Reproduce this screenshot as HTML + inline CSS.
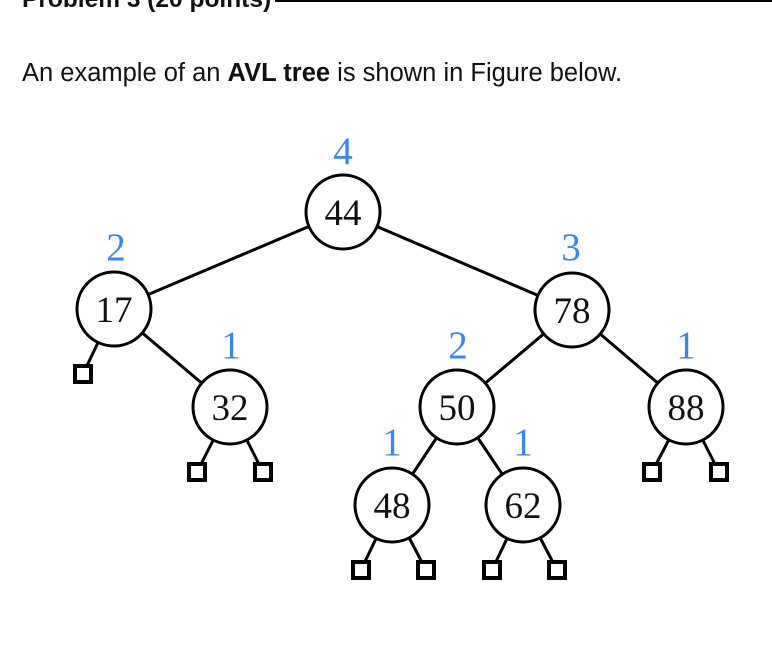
<!DOCTYPE html>
<html><head><style>
body{margin:0;width:772px;height:668px;background:#fff;overflow:hidden;position:relative;font-family:"Liberation Sans",sans-serif}
</style></head><body>
<div style="position:absolute;left:275px;top:0;width:497px;height:2px;background:#000"></div>
<div style="position:absolute;left:22px;top:-14px;font-size:24.5px;font-weight:bold;color:#111">Problem 3 (20 points)</div>
<div style="position:absolute;left:22px;top:59px;font-size:25.5px;color:#111">An example of an <b>AVL tree</b> is shown in Figure below.</div>
<svg width="772" height="668" style="position:absolute;left:0;top:0" xmlns="http://www.w3.org/2000/svg">
<g stroke="#000" stroke-width="3" fill="none">
<line x1="343" y1="212" x2="114" y2="309"/>
<line x1="343" y1="212" x2="572" y2="310"/>
<line x1="114" y1="309" x2="83" y2="374"/>
<line x1="114" y1="309" x2="230" y2="407"/>
<line x1="230" y1="407" x2="197" y2="472"/>
<line x1="230" y1="407" x2="263" y2="472"/>
<line x1="572" y1="310" x2="457" y2="407"/>
<line x1="572" y1="310" x2="686" y2="407"/>
<line x1="686" y1="407" x2="652" y2="472"/>
<line x1="686" y1="407" x2="719" y2="472"/>
<line x1="457" y1="407" x2="392" y2="505"/>
<line x1="457" y1="407" x2="523" y2="505"/>
<line x1="392" y1="505" x2="361" y2="570"/>
<line x1="392" y1="505" x2="426" y2="570"/>
<line x1="523" y1="505" x2="492" y2="570"/>
<line x1="523" y1="505" x2="557" y2="570"/>
</g>
<g stroke="#000" stroke-width="3" fill="#fff">
<circle cx="343" cy="212" r="37"/>
<circle cx="114" cy="309" r="37"/>
<circle cx="572" cy="310" r="37"/>
<circle cx="230" cy="407" r="37"/>
<circle cx="457" cy="407" r="37"/>
<circle cx="686" cy="407" r="37"/>
<circle cx="392" cy="505" r="37"/>
<circle cx="523" cy="505" r="37"/>
</g>
<g stroke="#000" stroke-width="4" fill="#fff">
<rect x="75" y="366" width="16" height="16"/>
<rect x="189" y="464" width="16" height="16"/>
<rect x="255" y="464" width="16" height="16"/>
<rect x="644" y="464" width="16" height="16"/>
<rect x="711" y="464" width="16" height="16"/>
<rect x="353" y="562" width="16" height="16"/>
<rect x="418" y="562" width="16" height="16"/>
<rect x="484" y="562" width="16" height="16"/>
<rect x="549" y="562" width="16" height="16"/>
</g>
<g font-family="Liberation Serif,serif" font-size="37" text-anchor="middle" fill="#111">
<text x="343" y="225">44</text>
<text x="114" y="322">17</text>
<text x="572" y="323">78</text>
<text x="230" y="420">32</text>
<text x="457" y="420">50</text>
<text x="686" y="420">88</text>
<text x="392" y="518">48</text>
<text x="523" y="518">62</text>
</g>
<g font-family="Liberation Serif,serif" font-size="39" text-anchor="middle" fill="#3a86f0">
<text x="343" y="164">4</text>
<text x="116" y="260">2</text>
<text x="571" y="260">3</text>
<text x="231" y="358">1</text>
<text x="458" y="358">2</text>
<text x="686" y="358">1</text>
<text x="392" y="455">1</text>
<text x="523" y="455">1</text>
</g>
</svg>
</body></html>
